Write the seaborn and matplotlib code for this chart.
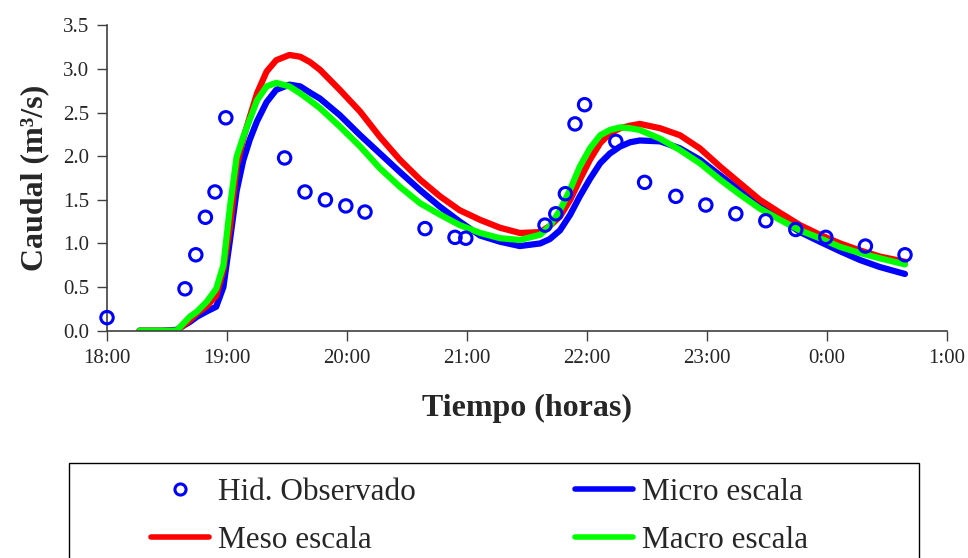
import matplotlib
matplotlib.use("Agg")
import matplotlib.pyplot as plt
from matplotlib.lines import Line2D
from matplotlib.patches import Rectangle
import numpy as np
import pandas as pd
import seaborn as sns

# Hours elapsed since 18:00
hour_labels = ["18:00", "19:00", "20:00", "21:00", "22:00", "23:00", "0:00", "1:00"]

# Observed hydrograph
t_obs = [0.00, 0.65, 0.74, 0.82, 0.90, 0.99, 1.48, 1.65, 1.82, 1.99, 2.15,
         2.65, 2.90, 2.99, 3.65, 3.74, 3.82, 3.90, 3.98, 4.24, 4.48, 4.74,
         4.99, 5.24, 5.49, 5.74, 5.99, 6.32, 6.65]
q_obs = [0.15, 0.48, 0.87, 1.30, 1.59, 2.44, 1.98, 1.59, 1.50, 1.43, 1.36,
         1.17, 1.07, 1.06, 1.21, 1.34, 1.57, 2.37, 2.59, 2.17, 1.70, 1.54,
         1.44, 1.34, 1.26, 1.16, 1.07, 0.97, 0.87]

# Simulated hydrographs
t_sim = [0.27, 0.45, 0.58, 0.69, 0.75, 0.83, 0.91, 0.97, 1.025, 1.08, 1.135,
         1.19, 1.25, 1.33, 1.41, 1.52, 1.61, 1.69, 1.775, 1.94, 2.11, 2.275,
         2.44, 2.61, 2.775, 2.94, 3.11, 3.275, 3.44, 3.61, 3.69, 3.775, 3.86,
         3.94, 4.025, 4.11, 4.19, 4.275, 4.36, 4.44, 4.61, 4.775, 4.94, 5.11,
         5.275, 5.44, 5.61, 5.775, 5.94, 6.11, 6.275, 6.44, 6.65]
q_micro = [0.00, 0.00, 0.01, 0.10, 0.16, 0.22, 0.275, 0.50, 1.04, 1.60, 1.95,
           2.19, 2.40, 2.62, 2.76, 2.82, 2.80, 2.73, 2.66, 2.47, 2.24, 2.03,
           1.82, 1.61, 1.42, 1.25, 1.09, 1.02, 0.97, 1.00, 1.05, 1.15, 1.33,
           1.54, 1.74, 1.92, 2.03, 2.11, 2.16, 2.18, 2.17, 2.09, 1.96, 1.78,
           1.61, 1.44, 1.29, 1.13, 1.02, 0.91, 0.81, 0.73, 0.65]
q_meso = [0.00, 0.00, 0.00, 0.12, 0.20, 0.28, 0.40, 0.70, 1.19, 1.88, 2.20,
          2.45, 2.72, 2.97, 3.10, 3.16, 3.14, 3.08, 2.99, 2.76, 2.51, 2.22,
          1.96, 1.73, 1.54, 1.38, 1.27, 1.18, 1.12, 1.13, 1.20, 1.31, 1.50,
          1.73, 1.96, 2.15, 2.26, 2.32, 2.35, 2.37, 2.32, 2.24, 2.09, 1.88,
          1.69, 1.50, 1.35, 1.21, 1.10, 1.00, 0.92, 0.85, 0.79]
q_macro = [0.00, 0.00, 0.00, 0.16, 0.22, 0.33, 0.48, 0.75, 1.42, 1.99, 2.22,
           2.42, 2.64, 2.80, 2.84, 2.80, 2.72, 2.64, 2.55, 2.34, 2.11, 1.86,
           1.65, 1.46, 1.33, 1.21, 1.12, 1.06, 1.04, 1.10, 1.20, 1.38, 1.62,
           1.88, 2.09, 2.24, 2.30, 2.33, 2.32, 2.30, 2.20, 2.07, 1.92, 1.73,
           1.56, 1.40, 1.27, 1.15, 1.06, 0.96, 0.89, 0.83, 0.76]

series_names = ["Micro escala", "Meso escala", "Macro escala"]
series_colors = ["#0000FF", "#FF0000", "#00FF00"]

sim = pd.concat([
    pd.DataFrame({"t": t_sim, "q": q, "serie": name})
    for name, q in zip(series_names, [q_micro, q_meso, q_macro])
], ignore_index=True)
obs = pd.DataFrame({"t": t_obs, "q": q_obs})

sns.set_style("ticks")
plt.rcParams["font.family"] = ["Liberation Serif", "DejaVu Serif"]

fig = plt.figure(figsize=(9.68, 5.58), dpi=100)
ax = fig.add_axes([107 / 968, 1 - 330.7 / 558, 840 / 968, 305.4 / 558])

sns.lineplot(data=sim, x="t", y="q", hue="serie", hue_order=series_names,
             palette=series_colors, linewidth=4.5, legend=False, ax=ax,
             sort=False)
sns.scatterplot(data=obs, x="t", y="q", ax=ax, marker="o", s=80,
                facecolor="none", edgecolor="#0000FF", linewidth=2.2,
                legend=False, zorder=5, clip_on=False)

ax.set_xlim(0, 7)
ax.set_ylim(0, 3.5)
ax.set_xticks(range(len(hour_labels)))
ax.set_xticklabels(hour_labels)
ax.set_yticks(np.arange(0, 3.51, 0.5))
ax.set_yticklabels([f"{v:.1f}" for v in np.arange(0, 3.51, 0.5)])
ax.tick_params(axis="both", labelsize=15, length=7, width=1,
               color="#404040", pad=6)
for side in ("left", "bottom"):
    ax.spines[side].set_color("#404040")
    ax.spines[side].set_linewidth(1.2)
sns.despine(ax=ax)

ax.set_xlabel("Tiempo (horas)", fontsize=23, fontweight="bold")
ax.set_ylabel("Caudal (m³/s)", fontsize=23, fontweight="bold")
ax.xaxis.label.set_va("center")
ax.yaxis.label.set_va("center")
ax.xaxis.set_label_coords(0.5, -0.253)
ax.yaxis.set_label_coords(-0.086, 0.5)

# Legend with an open-bottomed frame
fig.patches.append(Rectangle((69 / 968, -0.02), (919 - 69) / 968,
                             (558 - 462.5) / 558 + 0.02,
                             transform=fig.transFigure, fill=False,
                             edgecolor="black", linewidth=1.0))
handles = [
    Line2D([], [], linestyle="none", marker="o", markersize=8,
           markerfacecolor="none", markeredgecolor="#0000FF",
           markeredgewidth=2.2),
    Line2D([], [], color=series_colors[1], linewidth=4),
    Line2D([], [], color=series_colors[0], linewidth=4),
    Line2D([], [], color=series_colors[2], linewidth=4),
]
labels = ["Hid. Observado", "Meso escala", "Micro escala", "Macro escala"]
fig.legend(handles, labels, loc="upper left",
           bbox_to_anchor=(151 / 968, 1 - 478 / 558), ncol=2, frameon=False,
           fontsize=22.5, handlelength=1.86, handletextpad=0.28,
           columnspacing=5.1, labelspacing=0.62, borderpad=0, borderaxespad=0)

fig.savefig("out.png", dpi=100)
